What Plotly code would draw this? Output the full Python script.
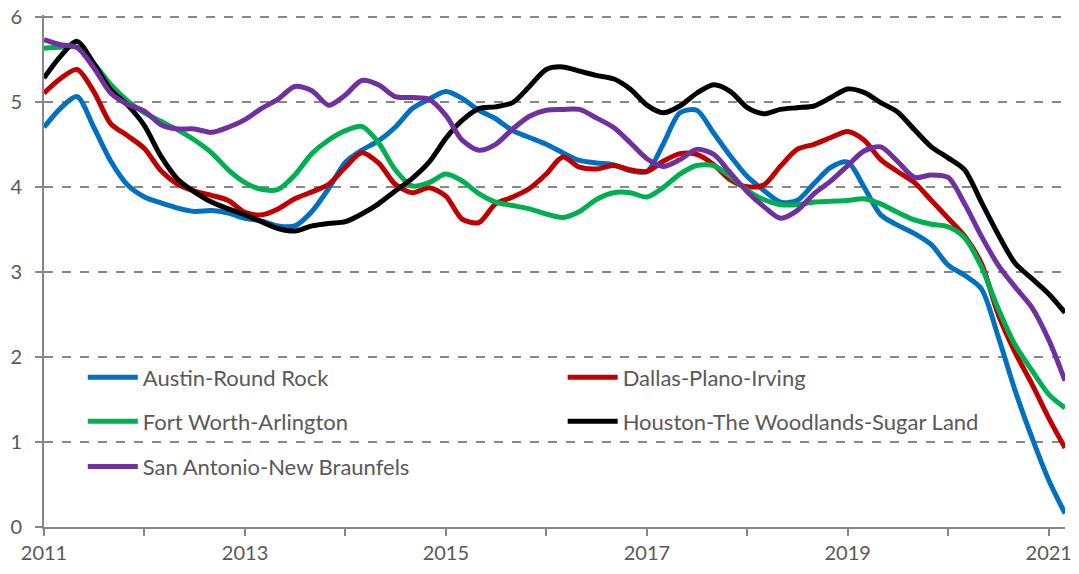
import pandas as pd
import plotly.graph_objects as go

# bi-monthly readings, Jan 2011 .. Mar 2021
dates = pd.date_range("2011-01-01", "2021-03-01", freq="2MS")

austin = [4.70, 4.92, 5.06, 4.70, 4.30, 4.02, 3.88, 3.81, 3.75, 3.71, 3.72, 3.69,
          3.63, 3.60, 3.54, 3.54, 3.71, 3.98, 4.29, 4.43, 4.54, 4.70, 4.92, 5.03,
          5.12, 5.04, 4.90, 4.80, 4.66, 4.58, 4.50, 4.40, 4.31, 4.28, 4.26, 4.19,
          4.18, 4.50, 4.87, 4.90, 4.63, 4.36, 4.12, 3.96, 3.82, 3.84, 4.04, 4.23,
          4.29, 4.00, 3.67, 3.55, 3.45, 3.32, 3.08, 2.96, 2.80, 2.24, 1.60, 1.05,
          0.55, 0.16]
dallas = [5.10, 5.27, 5.38, 5.12, 4.74, 4.60, 4.45, 4.19, 4.03, 3.95, 3.90, 3.84,
          3.70, 3.67, 3.74, 3.86, 3.94, 4.03, 4.23, 4.40, 4.28, 4.03, 3.93, 3.99,
          3.89, 3.62, 3.58, 3.80, 3.88, 3.98, 4.15, 4.35, 4.23, 4.21, 4.25, 4.20,
          4.18, 4.30, 4.39, 4.38, 4.26, 4.08, 4.00, 4.02, 4.24, 4.44, 4.50, 4.58,
          4.65, 4.55, 4.32, 4.18, 4.05, 3.84, 3.63, 3.42, 3.10, 2.50, 2.05, 1.68,
          1.28, 0.93]
fort_worth = [5.63, 5.64, 5.64, 5.45, 5.20, 5.01, 4.87, 4.77, 4.67, 4.55, 4.40, 4.20,
              4.05, 3.97, 3.97, 4.14, 4.39, 4.55, 4.66, 4.71, 4.52, 4.20, 4.01, 4.05,
              4.15, 4.07, 3.92, 3.82, 3.78, 3.74, 3.68, 3.64, 3.71, 3.85, 3.93, 3.93,
              3.88, 3.99, 4.15, 4.25, 4.25, 4.12, 3.96, 3.85, 3.79, 3.79, 3.82, 3.83,
              3.84, 3.86, 3.80, 3.70, 3.61, 3.56, 3.53, 3.40, 3.06, 2.57, 2.14, 1.84,
              1.56, 1.40]
houston = [5.28, 5.53, 5.71, 5.45, 5.14, 4.96, 4.72, 4.36, 4.09, 3.94, 3.82, 3.74,
           3.67, 3.59, 3.51, 3.48, 3.54, 3.57, 3.59, 3.68, 3.80, 3.95, 4.10, 4.29,
           4.57, 4.78, 4.92, 4.94, 4.99, 5.18, 5.38, 5.41, 5.36, 5.31, 5.27, 5.15,
           4.96, 4.87, 4.95, 5.10, 5.20, 5.12, 4.93, 4.86, 4.91, 4.93, 4.95, 5.05,
           5.15, 5.11, 4.99, 4.88, 4.67, 4.47, 4.34, 4.20, 3.82, 3.44, 3.10, 2.92,
           2.74, 2.52]
san_antonio = [5.73, 5.67, 5.64, 5.40, 5.10, 4.97, 4.89, 4.73, 4.68, 4.68, 4.64, 4.70,
               4.79, 4.92, 5.03, 5.18, 5.13, 4.96, 5.08, 5.25, 5.20, 5.06, 5.05, 5.03,
               4.84, 4.55, 4.43, 4.50, 4.68, 4.83, 4.90, 4.91, 4.91, 4.81, 4.70, 4.52,
               4.33, 4.24, 4.32, 4.44, 4.38, 4.16, 3.94, 3.77, 3.63, 3.72, 3.92, 4.07,
               4.25, 4.42, 4.47, 4.30, 4.11, 4.14, 4.11, 3.80, 3.42, 3.08, 2.82, 2.58,
               2.20, 1.72]

series = [
    ("Austin-Round Rock", austin, "#0070C0"),
    ("Dallas-Plano-Irving", dallas, "#C00000"),
    ("Fort Worth-Arlington", fort_worth, "#00B050"),
    ("Houston-The Woodlands-Sugar Land", houston, "#000000"),
    ("San Antonio-New Braunfels", san_antonio, "#7030A0"),
]

FONT = "Lato, Carlito, Calibri, sans-serif"
GREY = "#595959"

# legend slots (paper coords), one legend per entry so rows can be spaced freely
legend_pos = [(0.038, 0.292), (0.508, 0.292), (0.038, 0.206), (0.508, 0.206), (0.038, 0.118)]

fig = go.Figure()
layout_legends = {}
for i, (name, vals, color) in enumerate(series):
    key = "legend" if i == 0 else f"legend{i + 1}"
    fig.add_trace(go.Scatter(
        x=dates, y=vals, name=name, mode="lines", showlegend=True,
        line=dict(color=color, width=5, shape="spline", smoothing=0.8),
        legend=key,
    ))
    lx, ly = legend_pos[i]
    layout_legends[key] = dict(
        x=lx, y=ly, xanchor="left", yanchor="middle", visible=True,
        bgcolor="rgba(0,0,0,0)", itemwidth=50,
        font=dict(family=FONT, size=22, color=GREY),
    )

years = pd.date_range("2011-01-01", "2021-01-01", freq="YS")
year_text = [str(d.year) if d.year % 2 == 1 else "" for d in years]

fig.update_layout(
    width=1079, height=574,
    margin=dict(l=44, r=14, t=15, b=47),
    plot_bgcolor="white", paper_bgcolor="white",
    showlegend=True,
    font=dict(family=FONT, size=20, color=GREY),
    **layout_legends,
)
fig.update_xaxes(
    range=["2011-01-01", "2021-03-01"], automargin=False,
    tickvals=years, ticktext=year_text,
    showgrid=False, showline=True, linecolor="#878787", linewidth=2,
    ticks="outside", ticklen=7, tickcolor="#878787", tickwidth=2,
    ticklabelstandoff=0,
)
# small headroom above 6 so the top dashed gridline is drawn
fig.update_yaxes(
    range=[0, 6.02], tickvals=[0, 1, 2, 3, 4, 5, 6], automargin=False,
    showgrid=True, gridcolor="#878787", griddash="dash", gridwidth=1.5,
    showline=True, linecolor="#878787", linewidth=2,
    ticks="outside", ticklen=7, tickcolor="#878787", tickwidth=2,
    ticklabelstandoff=9, zeroline=False,
)

# drop the default 8px body margin so the figure sits at the page corner
fig.write_html("out.html", config={"displayModeBar": False},
               post_script="document.body.style.margin='0px';")
